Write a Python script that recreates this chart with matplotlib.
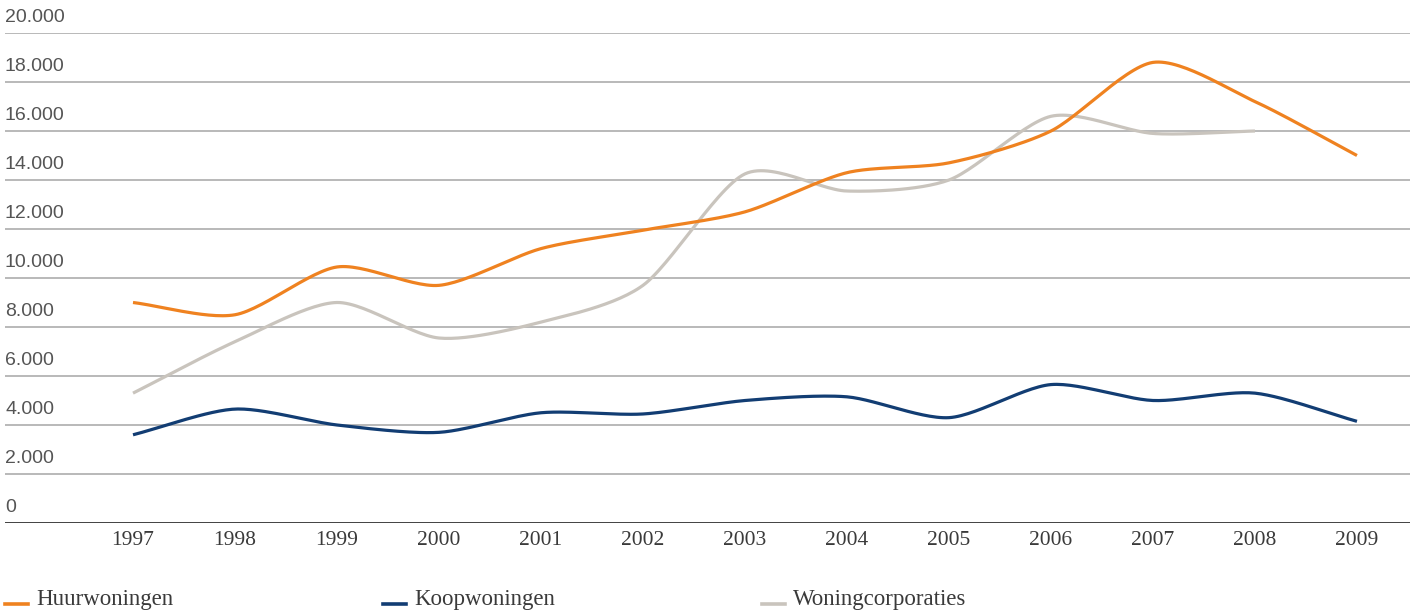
import numpy as np
import matplotlib
matplotlib.use("Agg")
import matplotlib.pyplot as plt
from matplotlib.lines import Line2D

years = [1997, 1998, 1999, 2000, 2001, 2002, 2003, 2004, 2005, 2006, 2007, 2008, 2009]
huur = [9000, 8500, 10450, 9700, 11200, 11950, 12700, 14300, 14700, 16000, 18800, 17200, 15000]
koop = [3600, 4650, 4000, 3700, 4500, 4450, 5000, 5150, 4300, 5650, 5000, 5300, 4150]
corp = [5300, 7400, 9000, 7550, 8200, 9700, 14250, 13550, 14000, 16600, 15900, 16000]

series_names = ["Huurwoningen", "Koopwoningen", "Woningcorporaties"]
colors = ["#ef8220", "#123d73", "#c9c4bd"]
yticks = list(range(0, 20001, 2000))

SANS = "Liberation Sans"
SERIF = "Liberation Serif"


def smooth(x, y, n=30):
    # Catmull-Rom curve through the points, like a smoothed line in a spreadsheet chart
    x = np.asarray(x, float)
    y = np.asarray(y, float)
    px = np.concatenate([[2 * x[0] - x[1]], x, [2 * x[-1] - x[-2]]])
    py = np.concatenate([[2 * y[0] - y[1]], y, [2 * y[-1] - y[-2]]])
    xs, ys = [], []
    t = np.linspace(0, 1, n)
    for i in range(1, len(px) - 2):
        for arr, out in ((px, xs), (py, ys)):
            p0, p1, p2, p3 = arr[i - 1], arr[i], arr[i + 1], arr[i + 2]
            m1 = (p2 - p0) / 2 * 0.8
            m2 = (p3 - p1) / 2 * 0.8
            h00 = 2 * t**3 - 3 * t**2 + 1
            h10 = t**3 - 2 * t**2 + t
            h01 = -2 * t**3 + 3 * t**2
            h11 = t**3 - t**2
            out.extend(h00 * p1 + h10 * m1 + h01 * p2 + h11 * m2)
    return np.array(xs), np.array(ys)


fig = plt.figure(figsize=(14.16, 6.11), dpi=100)
ax = fig.add_axes([5 / 1416, 1 - 523 / 611, 1405 / 1416, 490 / 611])
ax.set_xlim(1995.745, 2009.52)
ax.set_ylim(0, 20000)

for v in yticks[1:]:
    ax.axhline(v, color="#a6a6a6", lw=1.1, zorder=1)
ax.axhline(0, color="#333333", lw=1.3, zorder=1)

for vals, c in zip([corp, koop, huur], [colors[2], colors[1], colors[0]]):
    sx, sy = smooth(years[:len(vals)], vals)
    ax.plot(sx, sy, color=c, lw=2.3, solid_capstyle="butt", zorder=3)

for s in ax.spines.values():
    s.set_visible(False)
ax.set_xticks([])
ax.set_yticks([])

# y labels sit just above their gridline
for v in yticks:
    lab = f"{v:,}".replace(",", ".")
    ax.annotate(lab, xy=(0, v), xycoords=("axes fraction", "data"),
                xytext=(0, 5), textcoords="offset points",
                ha="left", va="bottom", fontsize=14, color="#555555",
                family=SANS, annotation_clip=False)

for yr in years:
    ax.annotate(str(yr), xy=(yr, 0), xycoords=("data", "data"),
                xytext=(0, -6), textcoords="offset points",
                ha="center", va="top", fontsize=15.5, color="#3a3a3a",
                family=SERIF, annotation_clip=False)

# legend row along the bottom
leg_x = [5, 383, 762]
for name, c, lx in zip(series_names, colors, leg_x):
    fig.add_artist(Line2D([lx / 1416, (lx + 23) / 1416], [1 - 604 / 611] * 2,
                          color=c, lw=2.6, transform=fig.transFigure))
    fig.text((lx + 31) / 1416, 1 - 600 / 611, name, ha="left", va="center",
             fontsize=16.5, color="#3a3a3a", family=SERIF)

fig.savefig("out.png", dpi=100)
